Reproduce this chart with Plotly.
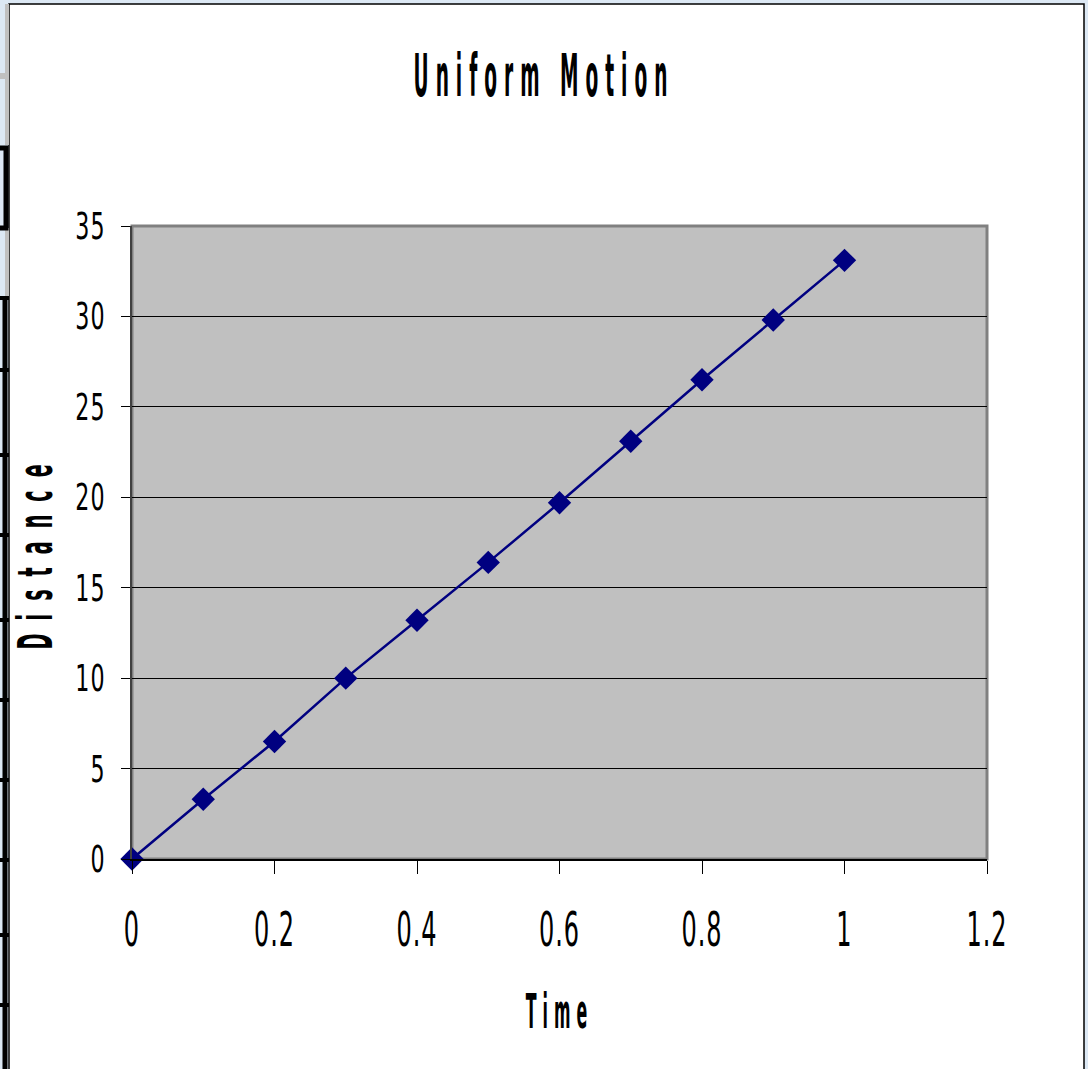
import plotly.graph_objects as go

# Measured distance against elapsed time for an object in uniform motion
time_s = [0, 0.1, 0.2, 0.3, 0.4, 0.5, 0.6, 0.7, 0.8, 0.9, 1.0]
distance = [0, 3.3, 6.5, 10.0, 13.2, 16.4, 19.7, 23.1, 26.5, 29.8, 33.1]

x_ticks = [0, 0.2, 0.4, 0.6, 0.8, 1, 1.2]
x_tick_labels = ["0", "0.2", "0.4", "0.6", "0.8", "1", "1.2"]
y_ticks = [0, 5, 10, 15, 20, 25, 30, 35]
y_tick_labels = ["0", "5", "10", "15", "20", "25", "30", "35"]

FONT = "DejaVu Sans, sans-serif"
NAVY = "#000080"

W, H = 1088, 1069
L, R, T, B = 132, 101, 226, 210
PW, PH = W - L - R, H - T - B


def px_x(p):
    return (p - L) / PW


def px_y(p):
    return (H - B - p) / PH


fig = go.Figure()
fig.add_trace(go.Scatter(
    x=time_s, y=distance, mode="lines+markers",
    line=dict(color=NAVY, width=2.5),
    marker=dict(symbol="diamond", size=18, color=NAVY),
    showlegend=False, cliponaxis=False,
))

shapes = [
    # white chart panel with thin black frame
    dict(type="rect", xref="paper", yref="paper", layer="below",
         x0=px_x(9), x1=px_x(1084), y0=px_y(1080), y1=px_y(4),
         fillcolor="white", line=dict(color="black", width=1.5)),
    # grey plot-area frame
    dict(type="rect", xref="paper", yref="paper", layer="below",
         x0=0, x1=1, y0=0, y1=1,
         fillcolor="#c0c0c0", line=dict(color="#808080", width=3)),
    # grey strips along the left edge
    dict(type="line", xref="paper", yref="paper",
         x0=px_x(7), x1=px_x(7), y0=px_y(145), y1=px_y(4),
         line=dict(color="#c0c0c0", width=4)),
    dict(type="line", xref="paper", yref="paper",
         x0=px_x(0), x1=px_x(9), y0=px_y(76), y1=px_y(76),
         line=dict(color="#c0c0c0", width=6)),
    dict(type="line", xref="paper", yref="paper",
         x0=px_x(7), x1=px_x(7), y0=px_y(296), y1=px_y(228),
         line=dict(color="#c0c0c0", width=4)),
    # dark bracket pieces along the left edge
    dict(type="rect", xref="paper", yref="paper", layer="above",
         x0=px_x(-6), x1=px_x(6), y0=px_y(228), y1=px_y(148),
         fillcolor="rgba(0,0,0,0)", line=dict(color="black", width=5)),
    dict(type="line", xref="paper", yref="paper",
         x0=px_x(5), x1=px_x(5), y0=px_y(296), y1=px_y(1080),
         line=dict(color="black", width=5)),
]
for yy in [298, 370, 455, 535, 620, 700, 780, 860, 935, 1005]:
    shapes.append(dict(type="line", xref="paper", yref="paper",
                       x0=px_x(0), x1=px_x(9), y0=px_y(yy), y1=px_y(yy),
                       line=dict(color="black", width=4)))

# vertical axis title, placed as a rotated annotation left of the tick labels
y_title = dict(text="Distance", xref="paper", yref="paper",
               x=px_x(35), y=px_y(551), xanchor="center", yanchor="middle",
               textangle=-90, showarrow=False,
               font=dict(family=FONT, size=48, color="black", weight="bold"))

fig.update_layout(
    width=W, height=H,
    margin=dict(l=L, r=R, t=T, b=B, pad=0, autoexpand=False),
    paper_bgcolor="#dce8f4",
    plot_bgcolor="#c0c0c0",
    shapes=shapes,
    annotations=[y_title],
    title=dict(text="Uniform Motion", x=0.5, xref="container", xanchor="center",
               y=1 - 76 / H, yanchor="middle",
               font=dict(family=FONT, size=58, color="black", weight="bold")),
    xaxis=dict(
        range=[0, 1.2], tickvals=x_ticks, ticktext=x_tick_labels,
        showgrid=False, zeroline=False, automargin=False,
        showline=True, linecolor="black", linewidth=2,
        ticks="outside", ticklen=13, tickcolor="black", tickwidth=1,
        ticklabelstandoff=14,
        tickfont=dict(family=FONT, size=48, color="black"),
        title=dict(text="Time", standoff=39,
                   font=dict(family=FONT, size=48, color="black",
                             weight="bold")),
    ),
    yaxis=dict(
        range=[0, 35], tickvals=y_ticks, ticktext=y_tick_labels,
        showgrid=True, gridcolor="black", gridwidth=1, zeroline=False,
        automargin=False,
        showline=True, linecolor="#404040", linewidth=2,
        ticks="outside", ticklen=9, tickcolor="black", tickwidth=1,
        ticklabelstandoff=8,
        tickfont=dict(family=FONT, size=37, color="black"),
    ),
)

# Tall, narrow, letter-spaced lettering: squeeze glyphs horizontally
# (factor g) and open up the gaps between letters (ls, in screen px).
condense_js = """
function squeeze(sel, g, ls) {
  document.querySelectorAll(sel).forEach(function (t) {
    t.style.letterSpacing = (ls / g) + 'px';
    var n = t.getComputedTextLength();
    t.setAttribute('lengthAdjust', 'spacingAndGlyphs');
    t.setAttribute('textLength', n * g);
  });
}
squeeze('.gtitle', 0.32, 7);
squeeze('.xtitle', 0.33, 6);
squeeze('.annotation-text', 0.4, 13);
squeeze('.xtick text', 0.5, 1);
squeeze('.ytick text', 0.6, 1);
"""

fig.write_html("out.html", post_script=condense_js)
